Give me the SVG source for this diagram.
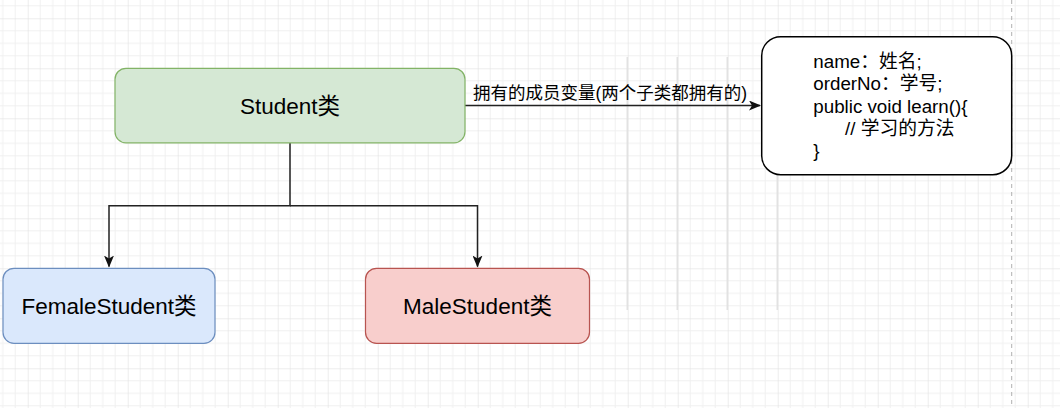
<svg xmlns="http://www.w3.org/2000/svg" width="1060" height="408" viewBox="0 0 1060 408">
  <defs>
    <pattern id="grid" patternUnits="userSpaceOnUse" x="27.7" y="18.3" width="50" height="50">
      <path d="M12.5 0V50M25 0V50M37.5 0V50M0 12.5H50M0 25H50M0 37.5H50" stroke="#f0f0f0" stroke-width="1" fill="none"/>
      <path d="M0 0V50M0 0H50" stroke="#dcdcdc" stroke-width="1" fill="none"/>
    </pattern>
    <marker id="arrow" viewBox="0 0 12 10" refX="11" refY="5" markerWidth="12" markerHeight="10" markerUnits="userSpaceOnUse" orient="auto">
      <path d="M0 0 L12 5 L0 10 L3 5 Z" fill="#111"/>
    </marker>
    <style>
      .node text { font-family: "Liberation Sans", "Noto Sans CJK SC", sans-serif; fill: #000; }
      .big { font-size: 22.5px; text-anchor: middle; }
      .code { font-size: 18.75px; }
      .edge { fill: none; stroke: #222; stroke-width: 1.5; }
      .lbl { font-family: "Liberation Sans", "Noto Sans CJK SC", sans-serif; font-size: 17.5px; text-anchor: middle; fill: #000; }
      .strip { stroke: #e2e2e2; stroke-width: 1.6; }
    </style>
  </defs>
  <rect width="1060" height="408" fill="#ffffff"/>
  <rect width="1060" height="408" fill="url(#grid)"/>
  <g id="strips">
    <line class="strip" x1="627.3" y1="57" x2="627.3" y2="310"/>
    <line class="strip" x1="677.3" y1="57" x2="677.3" y2="310"/>
    <line class="strip" x1="727.3" y1="57" x2="727.3" y2="310"/>
    <line class="strip" x1="777.3" y1="57" x2="777.3" y2="310"/>
  </g>
  <line id="page-break" x1="1011.7" y1="0" x2="1011.7" y2="408" stroke="#b0b0b0" stroke-width="1" stroke-dasharray="4 4"/>

  <g id="connectors">
    <path class="edge" d="M465 105.5 H760" marker-end="url(#arrow)"/>
    <text class="lbl" x="610" y="99">拥有的成员变量(两个子类都拥有的)</text>
    <path class="edge" d="M290 143 V205.7 H109 V266.5" marker-end="url(#arrow)"/>
    <path class="edge" d="M290 205.7 H477.5 V266.5" marker-end="url(#arrow)"/>
  </g>

  <g id="student" class="node">
    <rect x="115" y="68.3" width="350" height="74.5" rx="11" fill="#d5e8d4" stroke="#82b366" stroke-width="1.2"/>
    <text class="big" x="290" y="113.8">Student类</text>
  </g>
  <g id="female" class="node">
    <rect x="3" y="268.3" width="212" height="75" rx="11" fill="#dae8fc" stroke="#6c8ebf" stroke-width="1.2"/>
    <text class="big" x="109" y="313.8">FemaleStudent类</text>
  </g>
  <g id="male" class="node">
    <rect x="365.5" y="268.3" width="224" height="75" rx="11" fill="#f8cecc" stroke="#b85450" stroke-width="1.2"/>
    <text class="big" x="477.5" y="313.8">MaleStudent类</text>
  </g>
  <g id="members" class="node">
    <rect x="761.7" y="36.7" width="250" height="138" rx="19" fill="#ffffff" stroke="#000" stroke-width="1.5"/>
    <text class="code" x="813.3" y="68.3">name：姓名;</text>
    <text class="code" x="813.3" y="90.3">orderNo：学号;</text>
    <text class="code" x="813.3" y="112.8">public void learn(){</text>
    <text class="code" x="845" y="135">// 学习的方法</text>
    <text class="code" x="813.3" y="157.3">}</text>
  </g>
</svg>
